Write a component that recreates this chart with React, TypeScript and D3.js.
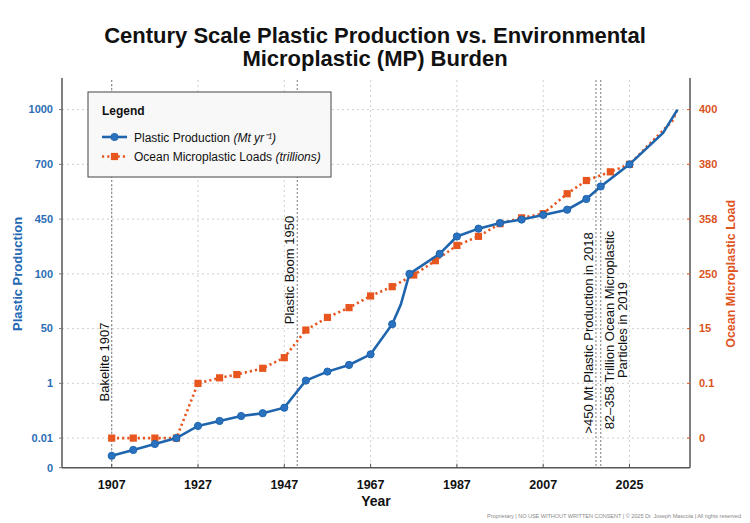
import React from "react";
import * as d3 from "d3";

// axis ticks (the original chart spaces them evenly, not proportionally)
const xTickYears = [1907, 1927, 1947, 1967, 1987, 2007, 2025];
const leftTicks = [0, 0.01, 1, 50, 100, 450, 700, 1000];
const rightTicks = [0, 0.1, 15, 250, 358, 380, 400];

// plastic production (Mt/yr)
const productionYears = [
  1907, 1912, 1917, 1922, 1927, 1932, 1937, 1942, 1947, 1952, 1957, 1962, 1967,
  1972, 1974, 1976, 1983, 1987, 1992, 1997, 2002, 2007, 2012, 2016, 2019, 2025,
  2032, 2035,
];
const productionValues = [
  0.004, 0.006, 0.008, 0.01, 0.23, 0.32, 0.41, 0.46, 0.56, 3.5, 11.5, 17.5, 27,
  54, 72, 100, 228, 339, 389, 425, 447, 469, 493, 542, 599, 700, 872, 1000,
];
const productionUnmarked = [1974, 2032, 2035];

// ocean microplastic loads (trillions)
const microYears = [
  1907, 1912, 1917, 1922, 1927, 1932, 1936, 1942, 1947, 1952, 1957, 1962, 1967,
  1972, 1977, 1982, 1987, 1992, 1997, 2002, 2007, 2012, 2016, 2021, 2025, 2034,
  2035,
];
const microValues = [
  0, 0, 0, 0, 0.1, 1.6, 2.5, 4.2, 7.1, 14.6, 63, 105, 155, 195, 245, 276, 306,
  324, 349, 358.5, 360.2, 368.2, 373.5, 377, 380, 396, 400,
];
const microUnmarked = [2034, 2035];

const annotations = [
  { year: 1907, lines: ["Bakelite 1907"], side: "left", yMid: 362 },
  { year: 1950, lines: ["Plastic Boom 1950"], side: "left", yMid: 270 },
  { year: 2018, lines: [">450 Mt Plastic Production in 2018"], side: "left", yMid: 333 },
  {
    year: 2019,
    lines: ["82\u2013358 Trillion Ocean Microplastic", "Particles in 2019"],
    side: "right",
    yMid: 330,
  },
];

const BLUE = "#1f65ae";
const ORANGE = "#e8561f";
const FONT = "'Liberation Sans', Arial, Helvetica, sans-serif";

const W = 750;
const H = 523;
const plot = { left: 62, right: 690, top: 80, bottom: 467.7 };

export default function App() {
  // x: evenly spaced ticks, piecewise linear between them
  const xFirst = plot.left + 49.7;
  const xStep = (plot.right - plot.left - 49.7 - 60.5) / (xTickYears.length - 1);
  const x = d3
    .scaleLinear()
    .domain(xTickYears)
    .range(xTickYears.map((_, i) => xFirst + i * xStep));

  const padY = 29.6;
  const stepY = (plot.bottom - plot.top - 2 * padY) / 6;
  const yLeft = d3
    .scaleLinear()
    .domain(leftTicks)
    .range(leftTicks.map((_, i) => (i === 0 ? plot.bottom : plot.bottom - padY - (i - 1) * stepY)));
  const yRight = d3
    .scaleLinear()
    .domain(rightTicks)
    .range(rightTicks.map((_, i) => plot.bottom - padY - i * stepY));

  const production = productionYears.map((yr, i) => ({ year: yr, value: productionValues[i] }));
  const micro = microYears.map((yr, i) => ({ year: yr, value: microValues[i] }));

  const prodLine = d3
    .line<{ year: number; value: number }>()
    .x((d) => x(d.year))
    .y((d) => yLeft(d.value));
  const microLine = d3
    .line<{ year: number; value: number }>()
    .x((d) => x(d.year))
    .y((d) => yRight(d.value));

  const cx = (plot.left + plot.right) / 2;

  return (
    <svg
      width={W}
      height={H}
      style={{ position: "absolute", left: 0, top: 0, background: "#fff" }}
      fontFamily={FONT}
    >
      {/* title */}
      <text x={375} y={43} textAnchor="middle" fontSize={22} fontWeight="bold" fill="#111">
        Century Scale Plastic Production vs. Environmental
      </text>
      <text x={375} y={66} textAnchor="middle" fontSize={22} fontWeight="bold" fill="#111">
        Microplastic (MP) Burden
      </text>

      {/* grid */}
      {xTickYears.map((t) => (
        <line
          key={"gx" + t}
          x1={x(t)}
          x2={x(t)}
          y1={plot.top}
          y2={plot.bottom}
          stroke="#cfcfcf"
          strokeDasharray="2,3"
        />
      ))}
      {leftTicks.slice(1).map((t) => (
        <line
          key={"gy" + t}
          x1={plot.left}
          x2={plot.right}
          y1={yLeft(t)}
          y2={yLeft(t)}
          stroke="#cfcfcf"
          strokeDasharray="2,3"
        />
      ))}

      {/* annotation lines */}
      {annotations.map((a) => (
        <line
          key={"al" + a.year}
          x1={x(a.year)}
          x2={x(a.year)}
          y1={plot.top}
          y2={plot.bottom}
          stroke="#858585"
          strokeWidth={1.1}
          strokeDasharray="2,2"
        />
      ))}
      {annotations.map((a) => {
        const ax = x(a.year);
        return (
          <g key={"at" + a.year} transform={`translate(${ax},${a.yMid}) rotate(-90)`}>
            {a.lines.map((ln, j) => (
              <text
                key={j}
                x={0}
                y={a.side === "left" ? -3 : 13 + j * 13.5}
                textAnchor="middle"
                fontSize={13}
                fill="#111"
              >
                {ln}
              </text>
            ))}
          </g>
        );
      })}

      {/* microplastic series */}
      <path
        d={microLine(micro) ?? ""}
        fill="none"
        stroke={ORANGE}
        strokeWidth={2.6}
        strokeDasharray="2.2,3"
      />
      {micro
        .filter((d) => !microUnmarked.includes(d.year))
        .map((d) => (
          <rect
            key={"m" + d.year}
            x={x(d.year) - 3.6}
            y={yRight(d.value) - 3.6}
            width={7.2}
            height={7.2}
            fill={ORANGE}
          />
        ))}

      {/* production series */}
      <path d={prodLine(production) ?? ""} fill="none" stroke={BLUE} strokeWidth={2.6} />
      {production
        .filter((d) => !productionUnmarked.includes(d.year))
        .map((d) => (
          <circle
            key={"p" + d.year}
            cx={x(d.year)}
            cy={yLeft(d.value)}
            r={3.6}
            fill="#2a72bf"
            stroke={BLUE}
            strokeWidth={1}
          />
        ))}

      {/* axes */}
      <line x1={plot.left} x2={plot.left} y1={plot.top - 2} y2={plot.bottom} stroke="#555" strokeWidth={1.5} />
      <line x1={plot.right} x2={plot.right} y1={plot.top - 2} y2={plot.bottom} stroke="#555" strokeWidth={1.5} />
      <line x1={plot.left} x2={plot.right} y1={plot.bottom} y2={plot.bottom} stroke="#555" strokeWidth={1.5} />

      {xTickYears.map((t) => (
        <g key={"xt" + t}>
          <line x1={x(t)} x2={x(t)} y1={plot.bottom} y2={plot.bottom - 4} stroke="#555" />
          <text x={x(t)} y={plot.bottom + 21.5} textAnchor="middle" fontSize={12.5} fontWeight="bold" fill="#111">
            {t}
          </text>
        </g>
      ))}
      {leftTicks.map((t) => (
        <g key={"lt" + t}>
          <line x1={plot.left - 3} x2={plot.left} y1={yLeft(t)} y2={yLeft(t)} stroke="#777" />
          <text
            x={plot.left - 9}
            y={yLeft(t)}
            dy="0.35em"
            textAnchor="end"
            fontSize={11}
            fontWeight="bold"
            fill="#2b6db4"
          >
            {t}
          </text>
        </g>
      ))}
      {rightTicks.map((t) => (
        <g key={"rt" + t}>
          <line x1={plot.right - 3} x2={plot.right} y1={yRight(t)} y2={yRight(t)} stroke={ORANGE} />
          <text
            x={plot.right + 9}
            y={yRight(t)}
            dy="0.35em"
            textAnchor="start"
            fontSize={11}
            fontWeight="bold"
            fill="#d9531e"
          >
            {t}
          </text>
        </g>
      ))}

      {/* axis titles */}
      <text x={cx} y={506} textAnchor="middle" fontSize={14} fontWeight="bold" fill="#111">
        Year
      </text>
      <text
        transform={`translate(22,${(plot.top + plot.bottom) / 2}) rotate(-90)`}
        textAnchor="middle"
        fontSize={13}
        fontWeight="bold"
        fill="#2268b3"
      >
        Plastic Production
      </text>
      <text
        transform={`translate(735,${(plot.top + plot.bottom) / 2}) rotate(-90)`}
        textAnchor="middle"
        fontSize={12.5}
        fontWeight="bold"
        fill="#e0561f"
      >
        Ocean Microplastic Load
      </text>

      {/* legend */}
      <g transform="translate(88,92)">
        <rect width={243} height={85} fill="#f8f8f8" stroke="#444" strokeWidth={1} />
        <text x={14} y={23} fontSize={12} fontWeight="bold" fill="#111">
          Legend
        </text>
        <line x1={14} x2={39} y1={45} y2={45} stroke={BLUE} strokeWidth={2.6} />
        <circle cx={26.5} cy={45} r={3.6} fill="#2a72bf" stroke={BLUE} />
        <text x={46} y={49.5} fontSize={12} fill="#111">
          Plastic Production <tspan fontStyle="italic">(Mt yr⁻¹)</tspan>
        </text>
        <line x1={14} x2={39} y1={64.5} y2={64.5} stroke={ORANGE} strokeWidth={2.6} strokeDasharray="2.2,3" />
        <rect x={22.9} y={60.9} width={7.2} height={7.2} fill={ORANGE} />
        <text x={46} y={69} fontSize={12} fill="#111">
          Ocean Microplastic Loads <tspan fontStyle="italic">(trillions)</tspan>
        </text>
      </g>

      {/* footer */}
      <text x={741} y={518} textAnchor="end" fontSize={5.6} fill="#8a8a8a" textLength={254}>
        Proprietary | NO USE WITHOUT WRITTEN CONSENT | © 2025 Dr. Joseph Mascola | All rights reserved
      </text>
    </svg>
  );
}
